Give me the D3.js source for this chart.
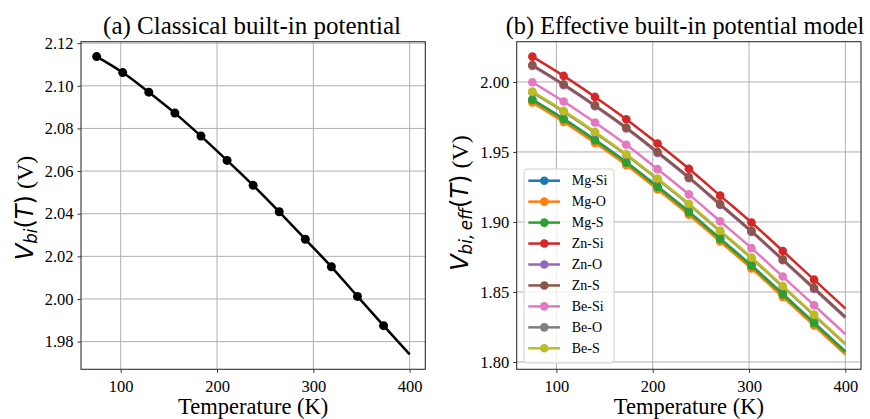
<!DOCTYPE html>
<html>
<head>
<meta charset="utf-8">
<script src="https://cdn.jsdelivr.net/npm/d3@7"></script>
<style>
  body { margin: 0; background: #fff; }
  text { font-family: "Liberation Serif", "Times New Roman", serif; fill: #000; }
  tspan.math { font-family: "DejaVu Sans", sans-serif; }
  tspan.serif { font-family: "Liberation Serif", serif; }
</style>
</head>
<body>
<div id="visualization"></div>
<script>
// temperatures (K)
var temps_a = [75, 102.08, 129.17, 156.25, 183.33, 210.42, 237.5, 264.58, 291.67, 318.75, 345.83, 372.92, 400];
var vbi_a = [2.1137, 2.1062, 2.0970, 2.0872, 2.0764, 2.0650, 2.0533, 2.0409, 2.0280, 2.0151, 2.0012, 1.9875, 1.9740];

var temps_b = [75, 107.5, 140, 172.5, 205, 237.5, 270, 302.5, 335, 367.5, 400];
var names_b = ["Mg-Si", "Mg-O", "Mg-S", "Zn-Si", "Zn-O", "Zn-S", "Be-Si", "Be-O", "Be-S"];
var mg_si = [1.9874, 1.9736, 1.9586, 1.9427, 1.9253, 1.9073, 1.8881, 1.8689, 1.8486, 1.8281, 1.8075];
var mg_o  = [1.9853, 1.9715, 1.9565, 1.9406, 1.9232, 1.9052, 1.8860, 1.8668, 1.8465, 1.8260, 1.8054];
var mg_s  = [1.9871, 1.9733, 1.9583, 1.9424, 1.9250, 1.9070, 1.8878, 1.8686, 1.8483, 1.8278, 1.8072];
var zn_si = [2.0181, 2.0043, 1.9893, 1.9734, 1.9560, 1.9380, 1.9188, 1.8996, 1.8793, 1.8588, 1.8382];
var zn_o  = [2.0114, 1.9976, 1.9826, 1.9667, 1.9493, 1.9313, 1.9121, 1.8929, 1.8726, 1.8521, 1.8315];
var zn_s  = [2.0121, 1.9983, 1.9833, 1.9674, 1.9500, 1.9320, 1.9128, 1.8936, 1.8733, 1.8528, 1.8322];
var be_si = [1.9998, 1.9860, 1.9710, 1.9551, 1.9377, 1.9197, 1.9005, 1.8813, 1.8610, 1.8405, 1.8199];
var be_o  = [1.9926, 1.9788, 1.9638, 1.9479, 1.9305, 1.9125, 1.8933, 1.8741, 1.8538, 1.8333, 1.8127];
var be_s  = [1.9931, 1.9793, 1.9643, 1.9484, 1.9310, 1.9130, 1.8938, 1.8746, 1.8543, 1.8338, 1.8132];
var series_b = [mg_si, mg_o, mg_s, zn_si, zn_o, zn_s, be_si, be_o, be_s];
var colors_b = ["#1f77b4", "#ff7f0e", "#2ca02c", "#d62728", "#9467bd", "#8c564b", "#e377c2", "#7f7f7f", "#bcbd22"];

var xticks = [100, 200, 300, 400];
var yticks_a = [1.98, 2.00, 2.02, 2.04, 2.06, 2.08, 2.10, 2.12];
var yticks_b = [1.80, 1.85, 1.90, 1.95, 2.00];

var width = 870, height = 419;

var svg = d3.select("#visualization")
    .append("svg")
    .attr("width", width)
    .attr("height", height);

// matplotlib style 5% padding
function padded(lo, hi) {
    var m = (hi - lo) * 0.05;
    return [lo - m, hi + m];
}

function draw_panel(box, ydom, yticks, ytickfmt) {
    var x = d3.scaleLinear().domain(padded(75, 400)).range([box.left, box.right]);
    var y = d3.scaleLinear().domain(ydom).range([box.bottom, box.top]);

    var g = svg.append("g");

    // grid
    g.append("g").selectAll("line").data(xticks).enter().append("line")
        .attr("x1", function(d) { return x(d); }).attr("x2", function(d) { return x(d); })
        .attr("y1", box.top).attr("y2", box.bottom)
        .attr("stroke", "#b0b0b0").attr("stroke-width", 1);
    g.append("g").selectAll("line").data(yticks).enter().append("line")
        .attr("y1", function(d) { return y(d); }).attr("y2", function(d) { return y(d); })
        .attr("x1", box.left).attr("x2", box.right)
        .attr("stroke", "#b0b0b0").attr("stroke-width", 1);

    var xa = g.append("g")
        .attr("transform", "translate(0," + box.bottom + ")")
        .call(d3.axisBottom(x).tickValues(xticks).tickSize(3.5).tickPadding(4).tickFormat(d3.format("d")));
    var ya = g.append("g")
        .attr("transform", "translate(" + box.left + ",0)")
        .call(d3.axisLeft(y).tickValues(yticks).tickSize(3.5).tickPadding(4).tickFormat(d3.format(ytickfmt)));
    [xa, ya].forEach(function(a) {
        a.select(".domain").remove();
        a.selectAll("text").attr("font-size", 16.5).attr("fill", "#000");
        a.selectAll("line").attr("stroke", "#333").attr("stroke-width", 1);
    });
    xa.selectAll("text").attr("dy", "0.9em");

    // frame
    g.append("rect")
        .attr("x", box.left).attr("y", box.top)
        .attr("width", box.right - box.left).attr("height", box.bottom - box.top)
        .attr("fill", "none").attr("stroke", "#333").attr("stroke-width", 1.1);

    return { g: g, x: x, y: y };
}

// ---- (a) ----
var boxA = { left: 81, right: 425.3, top: 41.7, bottom: 369.3 };
var pa = draw_panel(boxA, padded(d3.min(vbi_a), d3.max(vbi_a)), yticks_a, ".2f");
var pts_a = temps_a.map(function(t, i) { return [t, vbi_a[i]]; });

pa.g.append("path")
    .datum(pts_a)
    .attr("fill", "none")
    .attr("stroke", "#000")
    .attr("stroke-width", 2.5)
    .attr("d", d3.line().curve(d3.curveMonotoneX)
        .x(function(d) { return pa.x(d[0]); })
        .y(function(d) { return pa.y(d[1]); }));
pa.g.selectAll("circle.pt")
    .data(pts_a.slice(0, pts_a.length - 1))
    .enter().append("circle")
    .attr("cx", function(d) { return pa.x(d[0]); })
    .attr("cy", function(d) { return pa.y(d[1]); })
    .attr("r", 4.5)
    .attr("fill", "#000");

svg.append("text")
    .attr("x", 252).attr("y", 34)
    .attr("text-anchor", "middle").attr("font-size", 25)
    .text("(a) Classical built-in potential");
svg.append("text")
    .attr("x", (boxA.left + boxA.right) / 2).attr("y", 414)
    .attr("text-anchor", "middle").attr("font-size", 22.5)
    .text("Temperature (K)");

function ylabel(cx, cy, sub) {
    var t = svg.append("text")
        .attr("transform", "translate(" + cx + "," + cy + ") rotate(-90)")
        .attr("text-anchor", "middle")
        .attr("font-size", 24);
    t.append("tspan").attr("class", "math").attr("font-style", "italic").text("V");
    t.append("tspan").attr("class", "math").attr("font-style", "italic")
        .attr("font-size", 16.8).attr("dy", 4).text(sub);
    t.append("tspan").attr("class", "math").attr("dy", -4).text("(");
    t.append("tspan").attr("class", "math").attr("font-style", "italic").text("T");
    t.append("tspan").attr("class", "math").text(")");
    t.append("tspan").attr("class", "serif").text("\u00a0(V)");
}
ylabel(32.5, 208, "bi");

// ---- (b) ----
var boxB = { left: 516.7, right: 861, top: 41.7, bottom: 369.3 };
var all_b = d3.merge(series_b);
var pb = draw_panel(boxB, padded(d3.min(all_b), d3.max(all_b)), yticks_b, ".2f");

var line_b = d3.line().curve(d3.curveMonotoneX)
    .x(function(d) { return pb.x(d[0]); })
    .y(function(d) { return pb.y(d[1]); });

series_b.forEach(function(vals, k) {
    var pts = temps_b.map(function(t, i) { return [t, vals[i]]; });
    var sg = pb.g.append("g");
    sg.append("path").datum(pts)
        .attr("fill", "none").attr("stroke", colors_b[k]).attr("stroke-width", 2.5)
        .attr("d", line_b);
    sg.selectAll("circle")
        .data(pts.slice(0, pts.length - 1))
        .enter().append("circle")
        .attr("cx", function(d) { return pb.x(d[0]); })
        .attr("cy", function(d) { return pb.y(d[1]); })
        .attr("r", 4.3)
        .attr("fill", colors_b[k]);
});

// legend
var lg = svg.append("g").attr("transform", "translate(524,169)");
lg.append("rect")
    .attr("width", 90).attr("height", 194).attr("rx", 3).attr("ry", 3)
    .attr("fill", "#fff").attr("fill-opacity", 0.8)
    .attr("stroke", "#d0d0d0").attr("stroke-width", 1);
var items = lg.selectAll("g.item").data(names_b).enter().append("g")
    .attr("transform", function(d, i) { return "translate(0," + (11.7 + i * 20.95) + ")"; });
items.append("line")
    .attr("x1", 4.3).attr("x2", 36).attr("y1", 0).attr("y2", 0)
    .attr("stroke", function(d, i) { return colors_b[i]; }).attr("stroke-width", 2.5);
items.append("circle")
    .attr("cx", 20.3).attr("r", 4.3)
    .attr("fill", function(d, i) { return colors_b[i]; });
items.append("text")
    .attr("x", 47.7).attr("y", 4.6)
    .attr("font-size", 14)
    .text(function(d) { return d; });

svg.append("text")
    .attr("x", 685).attr("y", 34)
    .attr("text-anchor", "middle").attr("font-size", 24.3)
    .text("(b) Effective built-in potential model");
svg.append("text")
    .attr("x", (boxB.left + boxB.right) / 2).attr("y", 414)
    .attr("text-anchor", "middle").attr("font-size", 22.5)
    .text("Temperature (K)");
ylabel(467.5, 203, "bi,\u2009eff");
</script>
</body>
</html>
